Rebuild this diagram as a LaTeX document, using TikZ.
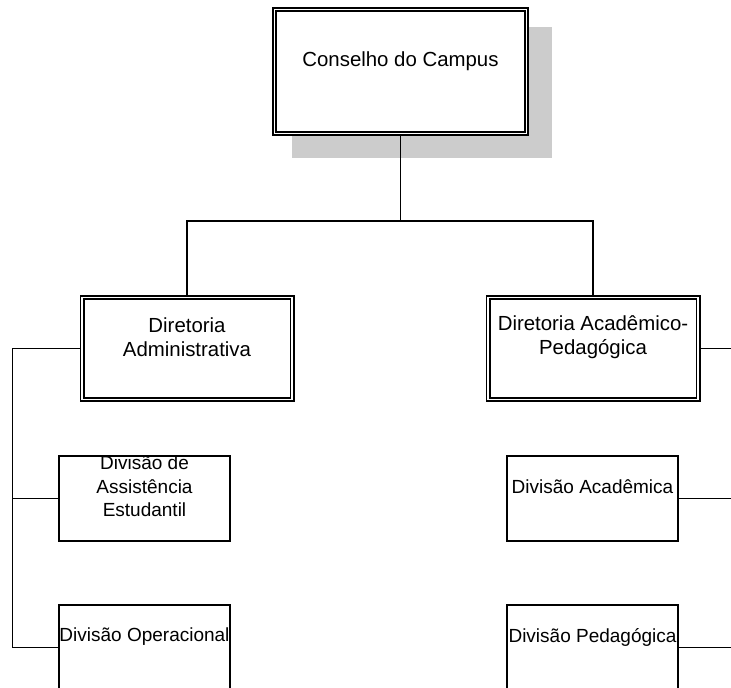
\documentclass[tikz,border=0pt]{standalone}
\usepackage{fontspec}
\setmainfont{Liberation Sans}
\usetikzlibrary{backgrounds}

\begin{document}
\begin{tikzpicture}[x=1pt, y=-1pt,
		dirbox/.style={draw, double, double distance=1.8pt, line width=1.6pt, fill=white, inner sep=0pt},
		divbox/.style={draw, line width=1.7pt, fill=white, minimum width=171pt, minimum height=85pt, inner sep=0pt},
		bigtxt/.style={font=\fontsize{20.4}{23.5}\selectfont, align=center, inner sep=0pt},
		smalltxt/.style={font=\fontsize{19}{23.5}\selectfont, align=center, inner sep=0pt},
		conn/.style={line width=1.7pt}]
			\useasboundingbox (0,0) rectangle (731,688);
			% boxes
			\node[dirbox, minimum width=252pt, minimum height=124pt]
				(conselho) at (400.5, 71.5) {};
			\node[dirbox, minimum width=210pt, minimum height=102pt]
				(dirAdm) at (187, 348.5) {};
			\node[dirbox, minimum width=210pt, minimum height=102pt]
				(dirAcad) at (593, 348.5) {};
			\node[divbox] (divAssist) at (144.5, 498.5) {};
			\node[divbox] (divOper) at (144.5, 647.5) {};
			\node[divbox] (divAcad) at (592.5, 498.5) {};
			\node[divbox] (divPed) at (592.5, 647.5) {};
			% texts
			\node[bigtxt] (conselhoTxt) at (400.5, 61) {Conselho do Campus};
			\node[bigtxt] (dirAdmTxt) at (187, 337) {Diretoria\\Administrativa};
			\node[bigtxt] (dirAcadTxt) at (593, 337) {Diretoria Acadêmico-\\Pedagógica};
			\node[smalltxt] (divAssistTxt) at (144.5, 486.5) {Divisão de\\Assistência\\Estudantil};
			\node[smalltxt] (divOperTxt) at (144.5, 637) {Divisão Operacional};
			\node[smalltxt] (divAcadTxt) at (592.5, 487) {Divisão Acadêmica};
			\node[smalltxt] (divPedTxt) at (592.5, 637.5) {Divisão Pedagógica};
			% shadow and connectors
			\coordinate (jct) at (400.5, 221);
			\coordinate (ltrunk) at (12.5, 0);
			\coordinate (redge) at (731, 0);
			\begin{scope}[on background layer]
				\fill[black!20] ([shift={(18.5pt,-18.5pt)}]conselho.north west)
					rectangle ([shift={(24.5pt,-23.5pt)}]conselho.south east);
				\draw[conn] (conselho) -- (jct);
				\draw[conn] (dirAdm) |- (jct) -| (dirAcad);
				\draw[conn] (dirAdm) -| (ltrunk |- divOper) -- (divOper);
				\draw[conn] (ltrunk |- divAssist) -- (divAssist);
				\foreach \n in {dirAcad, divAcad, divPed}
					\draw[conn] (\n) -- (\n -| redge);
			\end{scope}
		\end{tikzpicture}
\end{document}
